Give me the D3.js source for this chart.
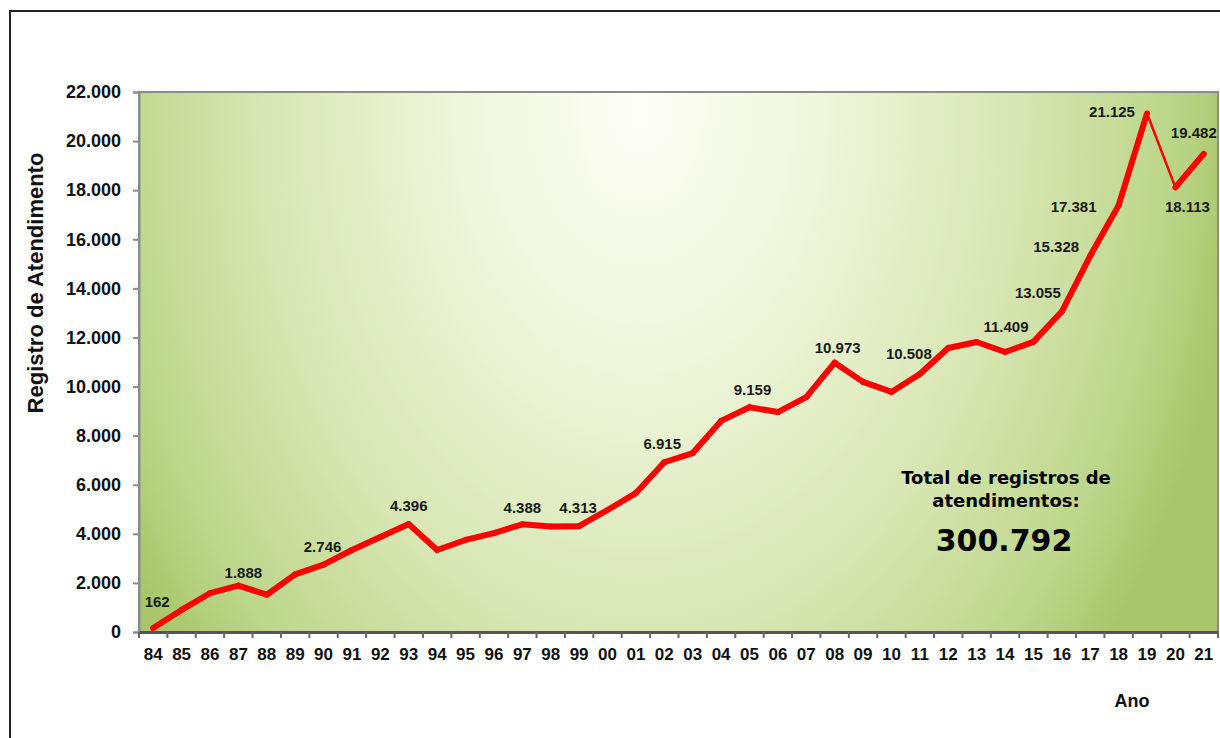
<!DOCTYPE html>
<html>
<head>
<meta charset="utf-8">
<script src="https://d3js.org/d3.v7.min.js"></script>
<style>
  body { margin: 0; background: #ffffff; }
  svg { display: block; }
</style>
</head>
<body>
<div id="chart"></div>
<script>
// data (years as shown on the axis)
var years = ["84","85","86","87","88","89","90","91","92","93","94","95","96","97","98","99",
             "00","01","02","03","04","05","06","07","08","09","10","11","12","13","14","15",
             "16","17","18","19","20","21"];
var registros = [162, 900, 1580, 1888, 1520, 2350, 2746, 3340, 3870, 4396, 3340, 3750, 4030, 4388, 4300, 4313,
                 4970, 5660, 6915, 7290, 8600, 9159, 8960, 9570, 10973, 10190, 9780, 10508, 11570, 11815, 11409, 11820,
                 13055, 15328, 17381, 21125, 18113, 19482];
var labeledYears = ["84","87","90","93","97","99","02","05","08","11","14","16","17","18","19","20","21"];
var yTicks = [0, 2000, 4000, 6000, 8000, 10000, 12000, 14000, 16000, 18000, 20000, 22000];
var totalText = ["Total de registros de", "atendimentos:"];
var totalValue = "300.792";

// where each value label sits relative to its point
var labelShift = {
  "84": [4, -21], "87": [5, -8], "90": [-1, -13], "93": [0, -13], "97": [0, -11], "99": [-1, -13],
  "02": [-2, -13], "05": [3, -12], "08": [3, -10], "11": [-11, -15], "14": [1, -20], "16": [-24, -14],
  "17": [-34, -4], "18": [-45, 7], "19": [-35, 4], "20": [12, 25], "21": [-10, -16]
};

var data = years.map(function(y, i) { return {year: y, value: registros[i]}; });

var W = 1220, H = 738;
var plot = {left: 139, top: 92, right: 1218, bottom: 632};

var ptBR = d3.formatLocale({decimal: ",", thousands: ".", grouping: [3], currency: ["", ""]});
var fmt = ptBR.format(",");

var svg = d3.select("#chart").append("svg")
    .attr("width", W)
    .attr("height", H);

// background gradient of the plot area
var defs = svg.append("defs");
var grad = defs.append("radialGradient")
    .attr("id", "bg")
    .attr("gradientUnits", "userSpaceOnUse")
    .attr("cx", 0).attr("cy", 0).attr("r", 1)
    .attr("gradientTransform", "translate(640,110) scale(600,840)");
grad.append("stop").attr("offset", "0").attr("stop-color", "#fdfef6");
grad.append("stop").attr("offset", "0.3").attr("stop-color", "#eff6dc");
grad.append("stop").attr("offset", "0.65").attr("stop-color", "#d6e5b0");
grad.append("stop").attr("offset", "0.88").attr("stop-color", "#bcd68a");
grad.append("stop").attr("offset", "1").attr("stop-color", "#a9c76a");

// outer frame (left and top only visible)
svg.append("path")
    .attr("d", "M10,738 V11 H1220")
    .attr("fill", "none")
    .attr("stroke", "#222")
    .attr("stroke-width", 2);

var x = d3.scaleBand()
    .domain(years)
    .range([plot.left, plot.right])
    .padding(0);

var y = d3.scaleLinear()
    .domain([0, 22000])
    .range([plot.bottom, plot.top]);

svg.append("rect")
    .attr("x", plot.left)
    .attr("y", plot.top)
    .attr("width", plot.right - plot.left)
    .attr("height", plot.bottom - plot.top)
    .attr("fill", "url(#bg)")
    .attr("stroke", "#8c8c8c")
    .attr("stroke-width", 2);

// y axis
var yAxis = svg.append("g")
    .attr("transform", "translate(" + plot.left + ",0)")
    .call(d3.axisLeft(y).tickValues(yTicks).tickFormat(fmt).tickSize(6).tickPadding(12));
yAxis.select(".domain").attr("stroke", "#8c8c8c").attr("stroke-width", 2);
yAxis.selectAll(".tick line").attr("stroke", "#8c8c8c").attr("stroke-width", 2);
yAxis.selectAll(".tick text")
    .attr("fill", "#111")
    .style("font-family", "'Liberation Sans', Arial, sans-serif")
    .style("font-size", "18px")
    .style("font-weight", "bold");

// x axis: ticks between the categories
var xAxis = svg.append("g")
    .attr("transform", "translate(0," + plot.bottom + ")")
    .call(d3.axisBottom(x).tickSize(0).tickPadding(16));
xAxis.select(".domain").attr("stroke", "#555").attr("stroke-width", 3);
xAxis.selectAll(".tick text")
    .attr("fill", "#111")
    .style("font-family", "'Liberation Sans', Arial, sans-serif")
    .style("font-size", "17px")
    .style("font-weight", "bold");
xAxis.selectAll(".sep")
    .data(d3.range(years.length + 1))
  .enter().append("line")
    .attr("class", "sep")
    .attr("x1", function(i) { return plot.left + i * x.step(); })
    .attr("x2", function(i) { return plot.left + i * x.step(); })
    .attr("y1", 0)
    .attr("y2", 6)
    .attr("stroke", "#666")
    .attr("stroke-width", 2);

// axis titles
svg.append("text")
    .attr("transform", "translate(43,283) rotate(-90)")
    .style("text-anchor", "middle")
    .style("font-family", "'Liberation Sans', Arial, sans-serif")
    .style("font-size", "22px")
    .style("font-weight", "bold")
    .attr("fill", "#111")
    .text("Registro de Atendimento");

svg.append("text")
    .attr("x", 1132)
    .attr("y", 707)
    .style("text-anchor", "middle")
    .style("font-family", "'Liberation Sans', Arial, sans-serif")
    .style("font-size", "18px")
    .style("font-weight", "bold")
    .attr("fill", "#111")
    .text("Ano");

// the line, drawn segment by segment (2019 -> 2020 is thinner in the original)
var seg = d3.line()
    .x(function(d) { return x(d.year) + x.bandwidth() / 2; })
    .y(function(d) { return y(d.value); });

svg.append("g").selectAll("path")
    .data(d3.pairs(data))
  .enter().append("path")
    .attr("d", seg)
    .attr("fill", "none")
    .attr("stroke", "#ff0000")
    .attr("stroke-linecap", "round")
    .attr("stroke-width", function(p) { return p[0].year === "19" ? 2.5 : 6; });

// value labels
svg.append("g").selectAll("text")
    .data(data.filter(function(d) { return labeledYears.indexOf(d.year) >= 0; }))
  .enter().append("text")
    .attr("x", function(d) { return x(d.year) + x.bandwidth() / 2 + labelShift[d.year][0]; })
    .attr("y", function(d) { return y(d.value) + labelShift[d.year][1]; })
    .style("text-anchor", "middle")
    .style("font-family", "'Liberation Sans', Arial, sans-serif")
    .style("font-size", "15px")
    .style("font-weight", "bold")
    .attr("fill", "#1a1a1a")
    .text(function(d) { return fmt(d.value); });

// total annotation
var note = svg.append("g")
    .style("font-family", "'DejaVu Sans', sans-serif")
    .style("font-weight", "bold")
    .attr("fill", "#000");
note.selectAll(".l")
    .data(totalText)
  .enter().append("text")
    .attr("class", "l")
    .attr("x", 1006)
    .attr("y", function(d, i) { return 484 + i * 23; })
    .style("text-anchor", "middle")
    .style("font-size", "18px")
    .text(function(d) { return d; });
note.append("text")
    .attr("x", 1004)
    .attr("y", 551)
    .style("text-anchor", "middle")
    .style("font-size", "30px")
    .text(totalValue);
</script>
</body>
</html>
